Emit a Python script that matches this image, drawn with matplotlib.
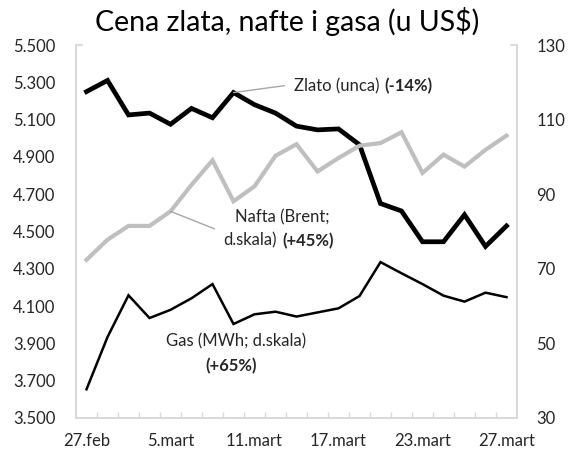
import matplotlib
matplotlib.use("Agg")
import matplotlib.pyplot as plt
from matplotlib.ticker import FixedLocator, FuncFormatter

plt.rcParams['font.family'] = ['Lato', 'DejaVu Sans']

# trading days, 27.feb - 27.mart
dates = ['27.feb', '2.mart', '3.mart', '4.mart', '5.mart', '6.mart', '9.mart',
         '10.mart', '11.mart', '12.mart', '13.mart', '16.mart', '17.mart',
         '18.mart', '19.mart', '20.mart', '23.mart', '24.mart', '25.mart',
         '26.mart', '27.mart']
# gold, USD per ounce (left axis)
gold = [5250, 5310, 5125, 5135, 5075, 5160, 5110, 5245, 5180, 5135, 5065,
        5045, 5050, 4965, 4650, 4610, 4445, 4445, 4590, 4420, 4530]
# Brent, USD per barrel (right axis)
brent = [72.4, 77.8, 81.5, 81.5, 85.4, 92.5, 99.1, 88.1, 92.1, 100.3, 103.4,
         96.1, 99.7, 103.0, 103.7, 106.6, 95.7, 100.6, 97.4, 101.9, 105.7]
# gas, USD per MWh (right axis)
gas = [37.7, 51.7, 62.9, 56.8, 59.0, 62.1, 65.9, 55.2, 57.8, 58.5, 57.2,
       58.3, 59.4, 62.7, 71.8, 68.8, 65.9, 62.8, 61.2, 63.6, 62.4]
label_step = 4

AXIS_COL = '#d9d9d9'
TXT_COL = '#262626'
GRAY = '#bfbfbf'
LEAD = '#a6a6a6'
FS = 12


def thousands(v, pos):
    return f"{v:,.0f}".replace(',', '.')


def draw_figure():
    fig = plt.figure(figsize=(5.68, 4.50), dpi=100)
    ax = fig.add_axes([76 / 568, 32 / 450, 441 / 568, 373 / 450])
    ax2 = ax.twinx()
    x = list(range(len(dates)))

    ax.plot(x, gold, color='black', lw=3.4, solid_joinstyle='miter', zorder=3)
    ax2.plot(x, brent, color=GRAY, lw=3.0, solid_joinstyle='miter', zorder=3)
    ax2.plot(x, gas, color='black', lw=1.8, solid_joinstyle='miter', zorder=3)

    ax.set_xlim(-0.5, len(dates) - 0.5)
    ax.set_ylim(3500, 5500)
    ax2.set_ylim(30, 130)
    ax.set_yticks(range(3500, 5501, 200))
    ax.yaxis.set_major_formatter(FuncFormatter(thousands))
    ax2.set_yticks(range(30, 131, 20))

    ax.set_xticks(x[::label_step])
    ax.set_xticklabels(dates[::label_step])
    ax.xaxis.set_minor_locator(FixedLocator([i + 0.5 for i in x[:-1]]))
    ax.tick_params(axis='x', which='major', length=0, pad=11, labelsize=FS,
                   labelcolor=TXT_COL)
    ax.tick_params(axis='x', which='minor', direction='in', length=4,
                   width=1, color=AXIS_COL)
    ax.tick_params(axis='y', length=0, pad=15, labelsize=FS, labelcolor=TXT_COL)
    ax2.tick_params(axis='y', length=0, pad=14, labelsize=FS, labelcolor=TXT_COL)

    for a in (ax, ax2):
        a.spines['top'].set_visible(False)
        for side in ('left', 'right', 'bottom'):
            a.spines[side].set_color(AXIS_COL)
            a.spines[side].set_linewidth(1.3)
    # small ticks at the top of both value axes
    ax.plot([0, 0.013], [1, 1], transform=ax.transAxes, color=AXIS_COL,
            lw=1.3, clip_on=False)
    ax.plot([0.987, 1], [1, 1], transform=ax.transAxes, color=AXIS_COL,
            lw=1.3, clip_on=False)

    # labels
    ax.annotate('', xy=(7, gold[7]), xytext=(9.43, 5282),
                arrowprops=dict(arrowstyle='-', color=LEAD, lw=1,
                                shrinkA=0, shrinkB=0))
    t = ax.text(9.86, 5277, 'Zlato (unca)', fontsize=FS, color=TXT_COL,
                va='center', ha='left')
    ax.annotate('(-14%)', xy=(1, 0.5), xycoords=t, xytext=(4, 0),
                textcoords='offset points', fontsize=FS, fontweight='bold',
                color=TXT_COL, va='center', ha='left')

    ax2.annotate('', xy=(4, brent[4]), xytext=(6.1, 80.7),
                 arrowprops=dict(arrowstyle='-', color=LEAD, lw=1,
                                 shrinkA=0, shrinkB=0))
    ax2.text(7.05, 83.7, 'Nafta (Brent;', fontsize=FS, color=TXT_COL,
             va='center', ha='left')
    t = ax2.text(6.52, 77.5, 'd.skala)', fontsize=FS, color=TXT_COL,
                 va='center', ha='left')
    ax2.annotate('(+45%)', xy=(1, 0.5), xycoords=t, xytext=(4, 0),
                 textcoords='offset points', fontsize=FS, fontweight='bold',
                 color=TXT_COL, va='center', ha='left')

    ax2.text(7.12, 50.5, 'Gas (MWh; d.skala)', fontsize=FS, color=TXT_COL,
             va='center', ha='center')
    ax2.text(6.9, 43.8, '(+65%)', fontsize=FS, color=TXT_COL,
             fontweight='bold', va='center', ha='center')

    fig.text(287.5 / 568, 1 - 22 / 450, 'Cena zlata, nafte i gasa (u US$)',
             fontsize=20.5, color='black', ha='center', va='center')

    fig.savefig('out.png', dpi=100)


if __name__ == "__main__":
    draw_figure()
